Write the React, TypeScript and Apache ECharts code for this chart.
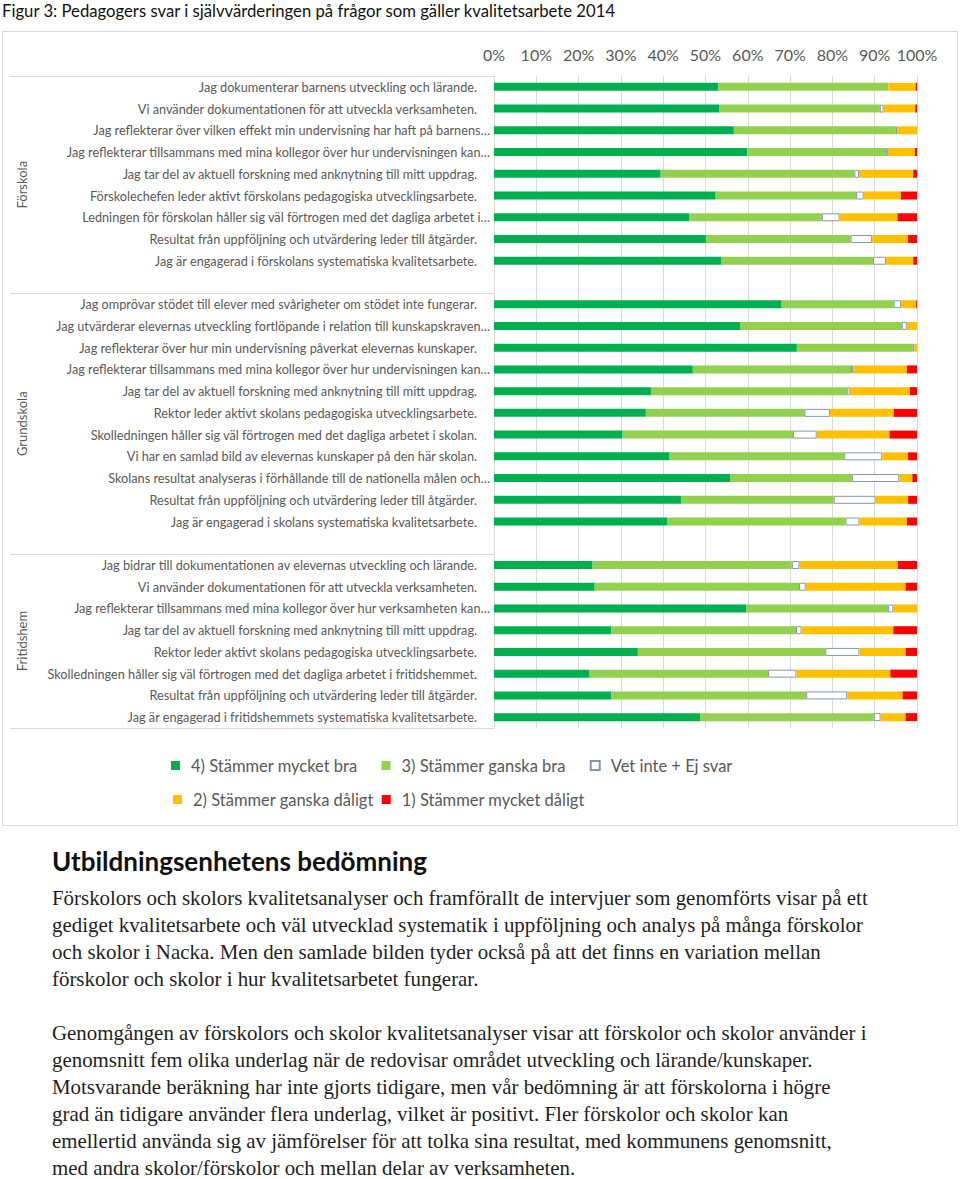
import React, { useEffect, useRef } from "react";
import * as echarts from "echarts";

// ---------- DATA ----------
const forskolaLabels = [
  "Jag dokumenterar barnens utveckling och lärande.",
  "Vi använder dokumentationen för att utveckla verksamheten.",
  "Jag reflekterar över vilken effekt min undervisning har haft på barnens…",
  "Jag reflekterar tillsammans med mina kollegor över hur undervisningen kan…",
  "Jag tar del av aktuell forskning med anknytning till mitt uppdrag.",
  "Förskolechefen leder aktivt förskolans pedagogiska utvecklingsarbete.",
  "Ledningen för förskolan håller sig väl förtrogen med det dagliga arbetet i…",
  "Resultat från uppföljning och utvärdering leder till åtgärder.",
  "Jag är engagerad i förskolans systematiska kvalitetsarbete.",
];
const grundskolaLabels = [
  "Jag omprövar stödet till elever med svårigheter om stödet inte fungerar.",
  "Jag utvärderar elevernas utveckling fortlöpande i relation till kunskapskraven…",
  "Jag reflekterar över hur min undervisning påverkat elevernas kunskaper.",
  "Jag reflekterar tillsammans med mina kollegor över hur undervisningen kan…",
  "Jag tar del av aktuell forskning med anknytning till mitt uppdrag.",
  "Rektor leder aktivt skolans pedagogiska utvecklingsarbete.",
  "Skolledningen håller sig väl förtrogen med det dagliga arbetet i skolan.",
  "Vi har en samlad bild av elevernas kunskaper på den här skolan.",
  "Skolans resultat analyseras i förhållande till de nationella målen och…",
  "Resultat från uppföljning och utvärdering leder till åtgärder.",
  "Jag är engagerad i skolans systematiska kvalitetsarbete.",
];
const fritidsLabels = [
  "Jag bidrar till dokumentationen av elevernas utveckling och lärande.",
  "Vi använder dokumentationen för att utveckla verksamheten.",
  "Jag reflekterar tillsammans med mina kollegor över hur verksamheten kan…",
  "Jag tar del av aktuell forskning med anknytning till mitt uppdrag.",
  "Rektor leder aktivt skolans pedagogiska utvecklingsarbete.",
  "Skolledningen håller sig väl förtrogen med det dagliga arbetet i fritidshemmet.",
  "Resultat från uppföljning och utvärdering leder till åtgärder.",
  "Jag är engagerad i fritidshemmets systematiska kvalitetsarbete.",
];
const groupNames = ["Förskola", "Grundskola", "Fritidshem"];

// percentages: 4) mycket bra, 3) ganska bra, Vet inte, 2) ganska dåligt, 1) mycket dåligt
const forskola4 = [53.0, 53.2, 56.7, 59.9, 39.4, 52.4, 46.1, 50.1, 53.8];
const forskola3 = [40.2, 38.0, 38.3, 32.8, 45.8, 33.2, 31.4, 34.2, 35.8];
const forskolaV = [0, 0.9, 0.3, 0.4, 1.1, 1.8, 4.2, 5.1, 3.1];
const forskola2 = [6.5, 7.5, 4.7, 6.4, 12.8, 8.8, 13.7, 8.5, 6.4];
const forskola1 = [0.3, 0.4, 0, 0.5, 0.9, 3.8, 4.6, 2.1, 0.9];

const grund4 = [68.0, 58.3, 71.6, 47.0, 37.1, 35.9, 30.4, 41.5, 55.8, 44.2, 40.9];
const grund3 = [26.5, 38.1, 27.4, 37.4, 46.3, 37.5, 40.3, 41.3, 28.8, 36.1, 42.2];
const grundV = [1.7, 1.2, 0.4, 0.5, 0.7, 6.0, 5.6, 9.0, 11.2, 9.9, 3.3];
const grund2 = [3.6, 2.4, 0.6, 12.7, 14.2, 15.1, 17.2, 6.1, 3.1, 7.7, 11.2];
const grund1 = [0.2, 0, 0, 2.4, 1.7, 5.5, 6.5, 2.1, 1.1, 2.1, 2.4];

const fritids4 = [23.3, 23.8, 59.7, 27.7, 34.0, 22.6, 27.7, 48.7];
const fritids3 = [47.1, 48.3, 33.5, 43.7, 44.3, 42.2, 46.1, 41.1];
const fritidsV = [1.8, 1.6, 1.2, 1.3, 8.1, 6.7, 9.7, 1.6];
const fritids2 = [23.3, 23.6, 5.6, 21.7, 10.9, 22.2, 13.1, 5.9];
const fritids1 = [4.5, 2.7, 0, 5.6, 2.7, 6.3, 3.4, 2.7];

const seriesNames = [
  "4) Stämmer mycket bra",
  "3) Stämmer ganska bra",
  "Vet inte + Ej svar",
  "2) Stämmer ganska dåligt",
  "1) Stämmer mycket dåligt",
];

const xTicks = [0, 10, 20, 30, 40, 50, 60, 70, 80, 90, 100];

const captionText =
  "Figur 3: Pedagogers svar i självvärderingen på frågor som gäller kvalitetsarbete 2014";
const headingText = "Utbildningsenhetens bedömning";
const paragraph1 = [
  "Förskolors och skolors kvalitetsanalyser och framförallt de intervjuer som genomförts visar på ett",
  "gediget kvalitetsarbete och väl utvecklad systematik i uppföljning och analys på många förskolor",
  "och skolor i Nacka. Men den samlade bilden tyder också på att det finns en variation mellan",
  "förskolor och skolor i hur kvalitetsarbetet fungerar.",
];
const paragraph2 = [
  "Genomgången av förskolors och skolor kvalitetsanalyser visar att förskolor och skolor använder i",
  "genomsnitt fem olika underlag när de redovisar området utveckling och lärande/kunskaper.",
  "Motsvarande beräkning har inte gjorts tidigare, men vår bedömning är att förskolorna i högre",
  "grad än tidigare använder flera underlag, vilket är positivt. Fler förskolor och skolor kan",
  "emellertid använda sig av jämförelser för att tolka sina resultat, med kommunens genomsnitt,",
  "med andra skolor/förskolor och mellan delar av verksamheten.",
];

// ---------- BUILD ----------
const groups = [forskolaLabels, grundskolaLabels, fritidsLabels];
const categories: string[] = [];
groups.forEach((g, i) => {
  if (i > 0) categories.push("");
  g.forEach((l) => categories.push(l));
});

function joinGroups(a: number[], b: number[], c: number[]) {
  const out: (number | null)[] = [];
  [a, b, c].forEach((arr, i) => {
    if (i > 0) out.push(null);
    arr.forEach((v) => out.push(v === 0 ? null : v));
  });
  return out;
}

const seriesData = [
  joinGroups(forskola4, grund4, fritids4),
  joinGroups(forskola3, grund3, fritids3),
  joinGroups(forskolaV, grundV, fritidsV),
  joinGroups(forskola2, grund2, fritids2),
  joinGroups(forskola1, grund1, fritids1),
];

const colors = ["#00b050", "#92d050", "#ffffff", "#ffc000", "#ff0000"];

const FONT = "Lato";
const SERIF = "Liberation Serif";

export default function App() {
  const ref = useRef<HTMLDivElement>(null);

  useEffect(() => {
    if (!ref.current) return;
    const chart = echarts.init(ref.current, null, { renderer: "svg" });

    const legendText = {
      color: "#595959",
      fontSize: 16.5,
      fontFamily: FONT,
      padding: [0, 0, 0, 6],
    };

    const option: any = {
      animation: false,
      backgroundColor: "#ffffff",
      grid: { left: 494, right: 43, top: 76, bottom: 451, containLabel: false },
      xAxis: {
        type: "value",
        position: "top",
        min: xTicks[0],
        max: xTicks[xTicks.length - 1],
        interval: 10,
        axisLabel: {
          formatter: "{value}%",
          color: "#595959",
          fontSize: 16,
          fontFamily: FONT,
          margin: 14,
        },
        axisLine: { show: false },
        axisTick: { show: false },
        splitLine: { show: true, lineStyle: { color: "#d9d9d9", width: 1 } },
      },
      yAxis: {
        type: "category",
        inverse: true,
        data: categories,
        axisLine: { show: true, lineStyle: { color: "#d9d9d9" } },
        axisTick: { show: false },
        axisLabel: {
          interval: 0,
          margin: 4,
          formatter: (v: string) => {
            if (!v) return "";
            return v.endsWith("…") ? `{e|${v}}` : `{n|${v}}`;
          },
          rich: {
            n: {
              fontSize: 12.7,
              fontFamily: FONT,
              color: "#595959",
              padding: [0, 13, 0, 0],
            },
            e: { fontSize: 12.7, fontFamily: FONT, color: "#595959" },
          },
        },
      },
      legend: [
        {
          data: seriesNames.slice(0, 3),
          left: 166,
          top: 752,
          itemWidth: 9,
          itemHeight: 9,
          itemGap: 24,
          icon: "rect",
          textStyle: legendText,
        },
        {
          data: seriesNames.slice(3),
          left: 168,
          top: 786,
          itemWidth: 9,
          itemHeight: 9,
          itemGap: 8,
          icon: "rect",
          textStyle: legendText,
        },
      ],
      series: seriesNames.map((name, i) => ({
        name,
        type: "bar",
        stack: "total",
        barWidth: 8,
        data: seriesData[i],
        itemStyle:
          i === 2
            ? { color: colors[i], borderColor: "#8497b0", borderWidth: 1 }
            : { color: colors[i] },
        emphasis: { disabled: true },
      })),
    };

    chart.setOption(option);

    // Separators and group labels from the category axis geometry
    const y0 = chart.convertToPixel({ yAxisIndex: 0 }, 0) as number;
    const y1 = chart.convertToPixel({ yAxisIndex: 0 }, 1) as number;
    const band = y1 - y0;
    const graphics: any[] = [];

    // Chart box border
    graphics.push({
      type: "rect",
      shape: { x: 2.5, y: 31.5, width: 955, height: 794 },
      style: { fill: "none", stroke: "#d9d9d9", lineWidth: 1 },
      silent: true,
    });

    // group boundaries
    const tops: number[] = [];
    let start = 0;
    groups.forEach((g) => {
      tops.push((chart.convertToPixel({ yAxisIndex: 0 }, start) as number) - band / 2);
      start += g.length + 1;
    });
    const lastIdx = categories.length - 1;
    const bottom = (chart.convertToPixel({ yAxisIndex: 0 }, lastIdx) as number) + band / 2;
    const bounds = [...tops, bottom];

    bounds.forEach((b) => {
      const yy = Math.round(b) + 0.5;
      graphics.push({
        type: "line",
        shape: { x1: 10, y1: yy, x2: 494, y2: yy },
        style: { stroke: "#d9d9d9", lineWidth: 1 },
        silent: true,
      });
    });

    groupNames.forEach((name, gi) => {
      graphics.push({
        type: "text",
        x: 22,
        y: (bounds[gi] + bounds[gi + 1]) / 2,
        rotation: Math.PI / 2,
        style: {
          text: name,
          fontSize: 13,
          fontFamily: FONT,
          fill: "#595959",
          align: "center",
          verticalAlign: "middle",
        },
        silent: true,
      });
    });

    // Caption
    graphics.push({
      type: "text",
      x: 2,
      y: 11,
      style: {
        text: captionText,
        fontSize: 16.7,
        fontFamily: FONT,
        fill: "#111111",
        verticalAlign: "middle",
      },
      silent: true,
    });
    // Heading
    graphics.push({
      type: "text",
      x: 52,
      y: 861,
      style: {
        text: headingText,
        fontSize: 26,
        fontWeight: "bold",
        fontFamily: FONT,
        fill: "#111111",
        verticalAlign: "middle",
      },
      silent: true,
    });
    const lineH = 27;
    const bodyStyle = { fontSize: 20.9, fontFamily: SERIF, fill: "#1f1f1f", verticalAlign: "middle" };
    paragraph1.forEach((t, i) => {
      graphics.push({
        type: "text",
        x: 52,
        y: 898 + i * lineH,
        style: { text: t, ...bodyStyle },
        silent: true,
      });
    });
    paragraph2.forEach((t, i) => {
      graphics.push({
        type: "text",
        x: 52,
        y: 1033 + i * lineH,
        style: { text: t, ...bodyStyle },
        silent: true,
      });
    });

    chart.setOption({ graphic: graphics });

    return () => {
      chart.dispose();
    };
  }, []);

  return (
    <div style={{ position: "absolute", left: 0, top: 0, width: 960, height: 1179, background: "#fff" }}>
      <div ref={ref} style={{ width: 960, height: 1179 }} />
    </div>
  );
}
